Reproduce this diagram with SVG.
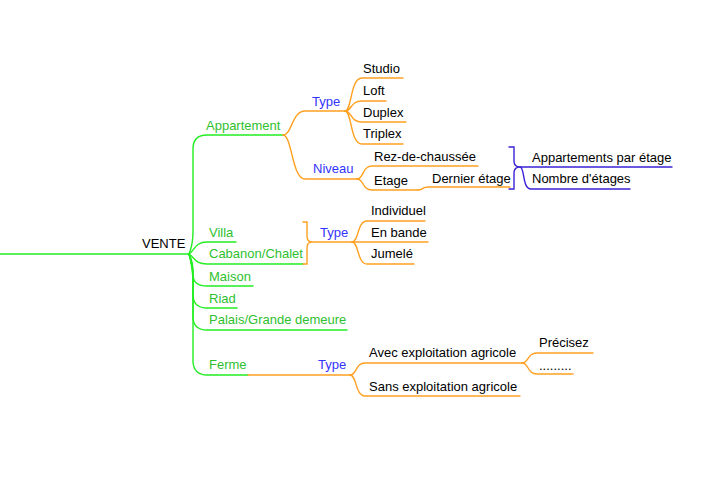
<svg xmlns="http://www.w3.org/2000/svg" width="710" height="480" viewBox="0 0 710 480">
<style>
text{font-family:"Liberation Sans",Arial,sans-serif;font-size:13px;fill:#000}
.g{fill:#2fbf2f}
.b{fill:#3333ff}
path,line{fill:none;stroke-width:1.4;stroke-linecap:round}
.lg{stroke:#22ee22}
.lo{stroke:#ffa020}
.lb{stroke:#3a22d8}
</style>
<rect width="710" height="480" fill="#fff"/>
<g id="connectors">
  <!-- root -->
  <path class="lg" d="M0,254 L189,254"/>
  <!-- green hub branches -->
  <path class="lg" d="M189,254 Q193,244 193,232 L193,149 Q193,135 207,135 L283,135"/>
  <path class="lg" d="M189,254 C195,250 195,242 207,242 L236,242"/>
  <path class="lg" d="M189,254 C195,258 195,264 207,264 L303,264"/>
  <path class="lg" d="M189,254 Q193,262 193,272 L193,276 Q194,286 207,286 L253,286"/>
  <path class="lg" d="M189,254 Q193,264 193,276 L193,296 Q194,308 207,308 L237,308"/>
  <path class="lg" d="M189,254 Q193,266 193,280 L193,318 Q194,330 207,330 L347,330"/>
  <path class="lg" d="M189,254 Q193,268 193,284 L193,362 Q194,375 207,375 L248,375"/>
  <!-- Appartement -> Type / Niveau -->
  <path class="lo" d="M283,135 C292,135 292,111 305,111 L345,111"/>
  <path class="lo" d="M283,135 C292,135 292,179 305,179 L357,179"/>
  <!-- Type -> Studio... -->
  <path class="lo" d="M345,111 C352,111 350,78 362,78 L403,78"/>
  <path class="lo" d="M345,111 C352,111 350,101 362,101 L386,101"/>
  <path class="lo" d="M345,111 C352,111 350,122 362,122 L406,122"/>
  <path class="lo" d="M345,111 C352,111 350,144 362,144 L403,144"/>
  <!-- Niveau -> Rez / Etage -->
  <path class="lo" d="M357,179 C364,179 362,166 372,166 L478,166"/>
  <path class="lo" d="M357,179 C364,179 362,190 372,190 L418,190"/>
  <!-- Etage -> Dernier étage -->
  <path class="lo" d="M418,190 C423,190 422,187 428,187 L510,187"/>
  <!-- blue summary brace -->
  <path class="lb" d="M509,147 L514,147 L514,161 Q514,167 520,167 Q514,167 514,173 L514,189 L509,189"/>
  <path class="lb" d="M520,167 L672,167"/>
  <path class="lb" d="M520,167 C525,167 522,189 531,189 L630,189"/>
  <!-- Villa/Cabanon brace -->
  <path class="lo" d="M303,222 L307,222 L307,236 Q307,242 312,242 Q307,242 307,248 L307,264 L303,264"/>
  <path class="lo" d="M312,242 L352,242"/>
  <path class="lo" d="M352,242 C359,242 357,221 367,221 L425,221"/>
  <path class="lo" d="M352,242 L428,242"/>
  <path class="lo" d="M352,242 C359,242 357,264 367,264 L414,264"/>
  <!-- Ferme -> Type -->
  <path class="lo" d="M248,375 L350,375"/>
  <path class="lo" d="M350,375 C357,375 355,363 365,363 L522,363"/>
  <path class="lo" d="M350,375 C357,375 355,396 365,396 L520,396"/>
  <path class="lo" d="M522,363 C529,363 527,353 537,353 L593,353"/>
  <path class="lo" d="M522,363 C529,363 527,374 537,374 L573,374"/>
</g>
<g id="n-vente"><text x="142" y="248">VENTE</text></g>
<g id="n-appartement"><text class="g" x="206" y="130">Appartement</text></g>
<g id="n-type1"><text class="b" x="312" y="106">Type</text></g>
<g id="n-studio"><text x="363" y="73">Studio</text></g>
<g id="n-loft"><text x="363" y="95">Loft</text></g>
<g id="n-duplex"><text x="363" y="117">Duplex</text></g>
<g id="n-triplex"><text x="363" y="138">Triplex</text></g>
<g id="n-niveau"><text class="b" x="313" y="173">Niveau</text></g>
<g id="n-rez"><text x="374" y="161">Rez-de-chaussée</text></g>
<g id="n-etage"><text x="374" y="185">Etage</text></g>
<g id="n-dernier"><text x="432" y="183">Dernier étage</text></g>
<g id="n-apppar"><text x="532" y="162">Appartements par étage</text></g>
<g id="n-nombre"><text x="532" y="183">Nombre d'étages</text></g>
<g id="n-villa"><text class="g" x="209" y="237">Villa</text></g>
<g id="n-cabanon"><text class="g" x="209" y="258">Cabanon/Chalet</text></g>
<g id="n-type2"><text class="b" x="320" y="237">Type</text></g>
<g id="n-individuel"><text x="371" y="215">Individuel</text></g>
<g id="n-enbande"><text x="371" y="237">En bande</text></g>
<g id="n-jumele"><text x="371" y="258">Jumelé</text></g>
<g id="n-maison"><text class="g" x="209" y="281">Maison</text></g>
<g id="n-riad"><text class="g" x="209" y="303">Riad</text></g>
<g id="n-palais"><text class="g" x="209" y="324">Palais/Grande demeure</text></g>
<g id="n-ferme"><text class="g" x="209" y="369">Ferme</text></g>
<g id="n-type3"><text class="b" x="318" y="369">Type</text></g>
<g id="n-avec"><text x="369" y="357">Avec exploitation agricole</text></g>
<g id="n-sans"><text x="369" y="391">Sans exploitation agricole</text></g>
<g id="n-precisez"><text x="539" y="347">Précisez</text></g>
<g id="n-dots"><text x="539" y="370">.........</text></g>
</svg>
